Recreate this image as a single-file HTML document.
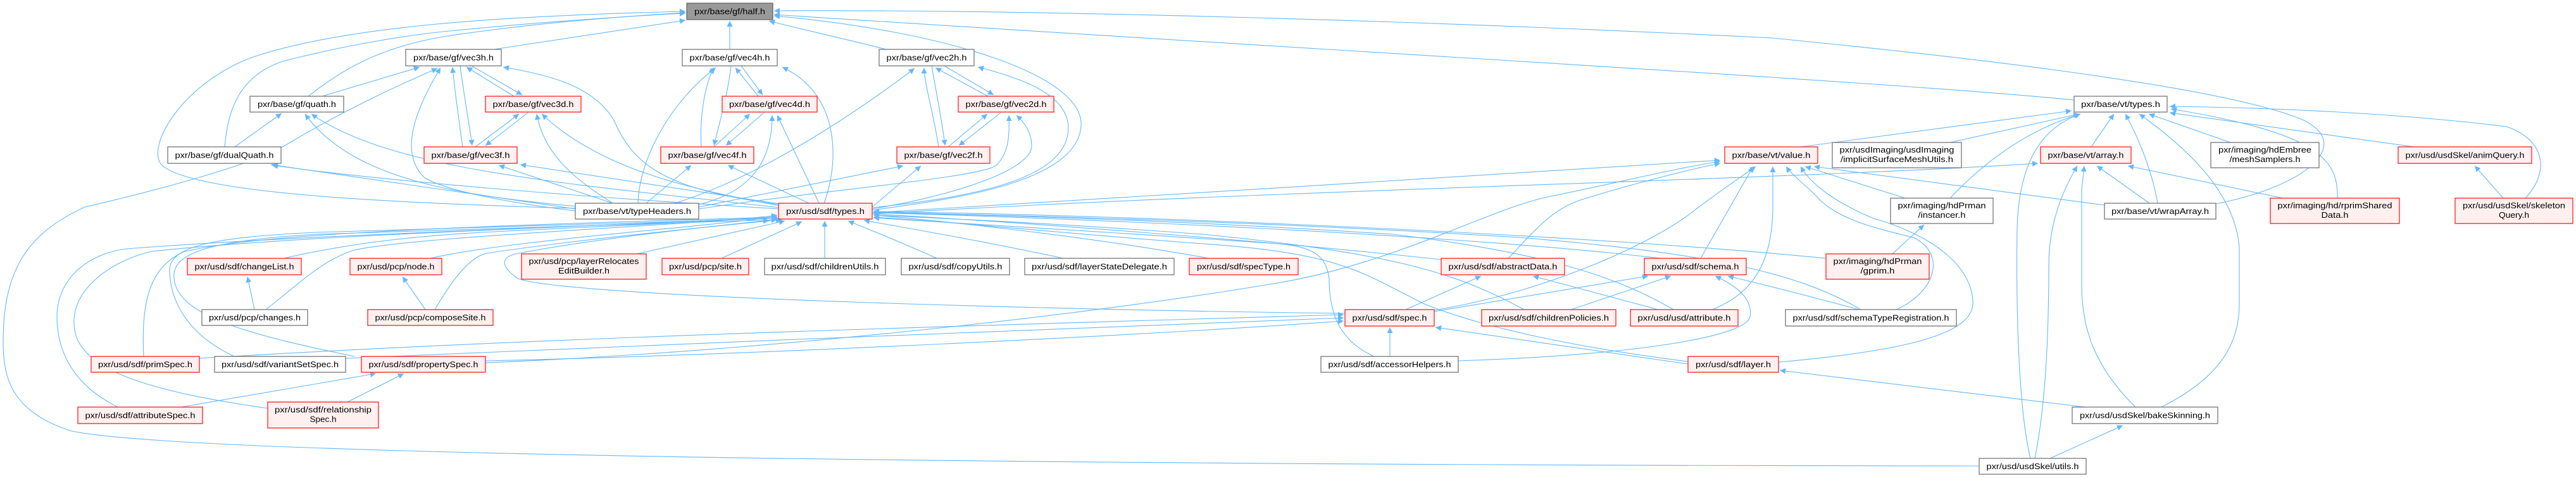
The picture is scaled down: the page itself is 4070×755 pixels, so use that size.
<!DOCTYPE html>
<html>
<head>
<meta charset="utf-8">
<style>
html,body{margin:0;padding:0;background:#fff;}
svg{display:block;}
text{font-family:"Liberation Sans",sans-serif;font-size:13px;fill:#000;}
.e{fill:none;stroke:#63b8ff;stroke-width:1.1;marker-end:url(#a);}
.n{fill:#fff;stroke:#777;stroke-width:1.3;}
.r{fill:#fff0f0;stroke:#ff2020;stroke-width:1.3;}
.g{fill:#999;stroke:#666;stroke-width:1.3;}
</style>
</head>
<body>
<svg width="4070" height="755" viewBox="0 0 4070 755" xmlns="http://www.w3.org/2000/svg">
<defs>
<marker id="a" viewBox="0 0 10 10" refX="10" refY="5" markerWidth="10" markerHeight="9" markerUnits="userSpaceOnUse" orient="auto"><path d="M0,0 L10,5 L0,10 z" fill="#63b8ff"/></marker>
</defs>
<rect width="4070" height="755" fill="#fff"/>

<!-- edges to half.h -->
<path class="e" d="M780 78 L1083 32"/>
<path class="e" d="M487 152 C540 110, 600 75, 700 58 C850 35, 1000 25, 1083 20"/>
<path class="e" d="M355 232 C360 170, 380 120, 446 97 C550 70, 650 55, 700 50 C850 35, 1000 25, 1083 21"/>
<path class="e" d="M909 329 C600 320, 300 305, 255 260 C230 230, 290 130, 400 90 C550 40, 800 25, 1083 18"/>
<path class="e" d="M1153 78 L1153 33"/>
<path class="e" d="M1400 78 C1330 60, 1260 45, 1215 33"/>
<path class="e" d="M1378 332 C1500 315, 1700 290, 1708 200 C1715 120, 1500 50, 1223 25"/>
<path class="e" d="M3277 158 C3000 130, 2100 80, 1223 23"/>
<path class="e" d="M3501 322 C3640 295, 3720 230, 3640 190 C3500 130, 3000 80, 2800 60 C2200 30, 1600 15, 1223 17"/>

<!-- vec3 group -->
<path class="e" d="M812 152 L737 106"/>
<path class="e" d="M745 104 L825 150"/>
<path class="e" d="M731 232 C725 190, 718 140, 715 106"/>
<path class="e" d="M727 104 C733 150, 742 200, 746 230"/>
<path class="e" d="M751 232 L820 180"/>
<path class="e" d="M834 178 L767 230"/>
<path class="e" d="M968 321 C920 290, 860 250, 848 180"/>
<path class="e" d="M1232 325 C1100 300, 950 270, 856 180"/>
<path class="e" d="M1232 323 C1050 300, 1000 260, 970 190 C940 140, 880 120, 795 106"/>
<path class="e" d="M968 321 L788 261"/>
<path class="e" d="M1232 322 L822 260"/>
<path class="e" d="M909 333 C800 320, 700 300, 670 280 C640 250, 640 200, 696 107"/>
<path class="e" d="M509 152 L663 106"/>
<path class="e" d="M371 232 L445 179"/>
<path class="e" d="M909 326 C750 310, 560 290, 482 180"/>
<path class="e" d="M1232 328 C900 290, 620 270, 492 180"/>
<path class="e" d="M909 330 L428 260"/>
<path class="e" d="M1232 330 C900 310, 600 285, 430 261"/>
<path class="e" d="M3127 736 C2000 735, 300 725, 110 680 C20 650, 5 600, 5 540 C5 430, 40 370, 134 327 C250 300, 400 260, 450 230 C550 170, 640 130, 691 108"/>

<!-- vec4 group -->
<path class="e" d="M1108 232 C1105 180, 1115 130, 1128 107"/>
<path class="e" d="M1155 104 C1150 150, 1135 200, 1128 230"/>
<path class="e" d="M1198 152 L1162 107"/>
<path class="e" d="M1171 104 L1205 150"/>
<path class="e" d="M1128 232 L1185 180"/>
<path class="e" d="M1207 178 L1147 230"/>
<path class="e" d="M1008 321 C1010 250, 1060 160, 1131 107"/>
<path class="e" d="M1302 321 C1325 260, 1330 150, 1236 106"/>
<path class="e" d="M1104 323 C1200 300, 1220 240, 1220 182"/>
<path class="e" d="M1294 321 L1228 182"/>
<path class="e" d="M1021 321 L1092 261"/>
<path class="e" d="M1278 321 L1150 261"/>

<!-- vec2 group -->
<path class="e" d="M1483 232 C1475 180, 1460 130, 1460 107"/>
<path class="e" d="M1472 104 C1480 150, 1490 200, 1493 230"/>
<path class="e" d="M1561 152 L1478 107"/>
<path class="e" d="M1492 104 L1570 150"/>
<path class="e" d="M1498 232 L1560 180"/>
<path class="e" d="M1581 178 L1515 230"/>
<path class="e" d="M1066 321 C1200 280, 1350 180, 1445 108"/>
<path class="e" d="M1378 328 C1550 310, 1690 280, 1688 200 C1685 150, 1620 125, 1545 106"/>
<path class="e" d="M1104 330 C1300 300, 1560 280, 1575 260 C1595 240, 1595 210, 1594 182"/>
<path class="e" d="M1378 330 C1500 310, 1630 270, 1630 230 C1630 210, 1620 195, 1606 182"/>
<path class="e" d="M1104 327 L1427 262"/>
<path class="e" d="M1378 327 L1455 262"/>

<!-- vt group -->
<path class="e" d="M2845 232 L3273 175"/>
<path class="e" d="M3081 225 L3285 180"/>
<path class="e" d="M3081 313 C3150 240, 3220 200, 3287 180"/>
<path class="e" d="M3208 724 C3190 650, 3185 500, 3187 360 C3190 250, 3230 200, 3287 180"/>
<path class="e" d="M3304 232 L3340 180"/>
<path class="e" d="M3409 321 C3400 270, 3380 220, 3358 180"/>
<path class="e" d="M3415 643 C3500 600, 3538 550, 3538 480 L3538 390 C3530 300, 3450 230, 3380 180"/>
<path class="e" d="M3524 225 L3395 180"/>
<path class="e" d="M3814 232 L3428 178"/>
<path class="e" d="M3693 313 C3695 250, 3660 210, 3430 172"/>
<path class="e" d="M3990 313 C4030 270, 4020 220, 3960 200 C3800 180, 3600 170, 3428 168"/>
<path class="e" d="M3955 313 L3910 262"/>
<path class="e" d="M3396 321 L3313 262"/>
<path class="e" d="M3607 313 L3362 262"/>
<path class="e" d="M3374 643 C3310 580, 3289 520, 3289 450 L3289 300 L3293 262"/>
<path class="e" d="M3215 724 C3230 650, 3237 550, 3237 420 C3237 350, 3260 300, 3282 262"/>
<path class="e" d="M3239 724 L3354 672"/>
<path class="e" d="M3325 324 L2866 263"/>
<path class="e" d="M3010 313 L2852 263"/>
<path class="e" d="M2810 572 C3000 555, 3115 530, 3117 480 C3118 420, 3050 370, 2960 345 C2900 320, 2860 290, 2845 263"/>
<path class="e" d="M2996 489 C3060 460, 3075 400, 3023 375 C2960 360, 2900 345, 2870 310 C2850 290, 2830 275, 2822 263"/>
<path class="e" d="M2705 489 C2780 460, 2800 400, 2801 330 L2801 263"/>
<path class="e" d="M2687 408 L2770 263"/>
<path class="e" d="M2266 490 C2450 460, 2620 380, 2680 330 C2720 300, 2750 280, 2774 263"/>
<path class="e" d="M2383 408 C2420 370, 2450 330, 2500 315 C2580 290, 2680 265, 2718 258"/>
<path class="e" d="M767 573 C1200 555, 1700 500, 2000 450 C2200 420, 2350 330, 2450 310 C2550 290, 2650 265, 2718 255"/>
<path class="e" d="M1378 336 C1800 310, 2300 280, 2718 253"/>
<path class="e" d="M1378 338 C2000 300, 2800 285, 3220 258"/>
<path class="e" d="M2990 401 L3040 355"/>

<!-- schema / abstractData / spec -->
<path class="e" d="M2266 492 L2604 436"/>
<path class="e" d="M2482 489 L2640 436"/>
<path class="e" d="M2304 570 C2600 560, 2760 530, 2765 500 C2770 470, 2740 450, 2710 436"/>
<path class="e" d="M2937 489 C2850 465, 2780 448, 2730 436"/>
<path class="e" d="M2221 489 L2340 436"/>
<path class="e" d="M2620 489 L2422 436"/>
<path class="e" d="M2196 563 L2196 517"/>
<path class="e" d="M2667 575 L2268 517"/>
<path class="e" d="M3295 643 L2812 585"/>
<path class="e" d="M315 566 C900 530, 1700 510, 2123 497"/>
<path class="e" d="M546 566 C1000 545, 1800 515, 2123 502"/>
<path class="e" d="M767 570 C1200 560, 1800 530, 2123 507"/>

<!-- sdf/types fan -->
<path class="e" d="M448 408 C550 385, 650 372, 800 365 C1000 355, 1150 350, 1228 340"/>
<path class="e" d="M680 408 C800 380, 1100 360, 1228 342"/>
<path class="e" d="M420 489 C470 450, 510 410, 560 395 C650 375, 1000 360, 1228 342"/>
<path class="e" d="M402 489 L391 437"/>
<path class="e" d="M672 489 L636 437"/>
<path class="e" d="M687 489 C710 450, 740 405, 770 400 C900 380, 1100 360, 1235 347"/>
<path class="e" d="M227 563 C222 470, 240 420, 290 398 C400 370, 700 358, 1228 343"/>
<path class="e" d="M370 563 C300 530, 270 480, 268 430 C265 390, 330 375, 500 367 C800 358, 1100 350, 1228 345"/>
<path class="e" d="M560 563 C400 530, 280 500, 275 440 C270 400, 330 380, 500 370 C800 362, 1100 352, 1228 347"/>
<path class="e" d="M186 643 C120 610, 90 560, 90 500 C90 440, 140 400, 200 393 C500 370, 900 360, 1228 343"/>
<path class="e" d="M423 645 C250 620, 140 590, 120 530 C100 460, 180 410, 240 397 C500 370, 900 360, 1228 343"/>
<path class="e" d="M286 643 L594 590"/>
<path class="e" d="M549 635 L638 590"/>
<path class="e" d="M1006 401 L1240 349"/>
<path class="e" d="M1140 408 L1267 350"/>
<path class="e" d="M1303 408 L1303 349"/>
<path class="e" d="M1480 408 C1440 390, 1380 365, 1340 349"/>
<path class="e" d="M1680 408 C1550 380, 1420 358, 1365 348"/>
<path class="e" d="M1910 408 C1700 370, 1450 345, 1380 340"/>
<path class="e" d="M2277 410 C2000 380, 1600 350, 1380 338"/>
<path class="e" d="M2624 408 C2300 370, 1700 345, 1380 336"/>
<path class="e" d="M2885 408 C2500 370, 1800 340, 1380 334"/>
<path class="e" d="M2940 489 C2840 430, 2700 400, 2400 375 C2000 350, 1600 340, 1380 335"/>
<path class="e" d="M2408 489 C2300 430, 2200 400, 1900 370 C1700 355, 1500 345, 1380 340"/>
<path class="e" d="M2644 489 C2560 440, 2450 400, 2200 370 C1900 350, 1600 340, 1380 336"/>
<path class="e" d="M2667 571 C2500 550, 2350 520, 2250 480 C2150 430, 2120 400, 1900 385 C1700 370, 1500 350, 1380 343"/>
<path class="e" d="M2171 563 C2120 540, 2100 500, 2100 440 C2095 400, 2070 390, 2020 385 C1800 370, 1500 350, 1380 344"/>
<path class="e" d="M2125 495 C1700 490, 900 470, 818 440 C790 420, 790 405, 820 400 C950 375, 1150 355, 1215 348"/>

<!-- nodes -->
<g>
<rect class="g" x="1085" y="5" width="136" height="26"/><text x="1153" y="22.5" text-anchor="middle" textLength="112" lengthAdjust="spacingAndGlyphs">pxr/base/gf/half.h</text>

<rect class="n" x="641" y="78" width="151" height="26"/><text x="716.5" y="95.5" text-anchor="middle" textLength="127" lengthAdjust="spacingAndGlyphs">pxr/base/gf/vec3h.h</text>
<rect class="n" x="1078" y="78" width="150" height="26"/><text x="1153" y="95.5" text-anchor="middle" textLength="127" lengthAdjust="spacingAndGlyphs">pxr/base/gf/vec4h.h</text>
<rect class="n" x="1389" y="78" width="150" height="26"/><text x="1464" y="95.5" text-anchor="middle" textLength="127" lengthAdjust="spacingAndGlyphs">pxr/base/gf/vec2h.h</text>

<rect class="n" x="395" y="152" width="148" height="25"/><text x="469" y="169" text-anchor="middle" textLength="124" lengthAdjust="spacingAndGlyphs">pxr/base/gf/quath.h</text>
<rect class="r" x="767" y="152" width="151" height="25"/><text x="842.5" y="169" text-anchor="middle" textLength="128" lengthAdjust="spacingAndGlyphs">pxr/base/gf/vec3d.h</text>
<rect class="r" x="1141" y="152" width="150" height="25"/><text x="1216" y="169" text-anchor="middle" textLength="128" lengthAdjust="spacingAndGlyphs">pxr/base/gf/vec4d.h</text>
<rect class="r" x="1514" y="152" width="151" height="25"/><text x="1589.5" y="169" text-anchor="middle" textLength="128" lengthAdjust="spacingAndGlyphs">pxr/base/gf/vec2d.h</text>
<rect class="n" x="3277" y="152" width="147" height="25"/><text x="3350.5" y="169" text-anchor="middle" textLength="125" lengthAdjust="spacingAndGlyphs">pxr/base/vt/types.h</text>

<rect class="n" x="265" y="232" width="179" height="26"/><text x="354.5" y="249.5" text-anchor="middle" textLength="156" lengthAdjust="spacingAndGlyphs">pxr/base/gf/dualQuath.h</text>
<rect class="r" x="670" y="232" width="147" height="26"/><text x="743.5" y="249.5" text-anchor="middle" textLength="124" lengthAdjust="spacingAndGlyphs">pxr/base/gf/vec3f.h</text>
<rect class="r" x="1044" y="232" width="147" height="26"/><text x="1117.5" y="249.5" text-anchor="middle" textLength="124" lengthAdjust="spacingAndGlyphs">pxr/base/gf/vec4f.h</text>
<rect class="r" x="1417" y="232" width="147" height="26"/><text x="1490.5" y="249.5" text-anchor="middle" textLength="124" lengthAdjust="spacingAndGlyphs">pxr/base/gf/vec2f.h</text>
<rect class="r" x="2725" y="232" width="147" height="26"/><text x="2798.5" y="249.5" text-anchor="middle" textLength="124" lengthAdjust="spacingAndGlyphs">pxr/base/vt/value.h</text>
<rect class="r" x="3224" y="232" width="143" height="26"/><text x="3295.5" y="249.5" text-anchor="middle" textLength="120" lengthAdjust="spacingAndGlyphs">pxr/base/vt/array.h</text>
<rect class="r" x="3789" y="232" width="211" height="26"/><text x="3894.5" y="249.5" text-anchor="middle" textLength="188" lengthAdjust="spacingAndGlyphs">pxr/usd/usdSkel/animQuery.h</text>

<rect class="n" x="2895" y="225" width="204" height="40"/><text x="2997" y="241" text-anchor="middle" textLength="181" lengthAdjust="spacingAndGlyphs">pxr/usdImaging/usdImaging</text><text x="2997" y="256" text-anchor="middle" textLength="178" lengthAdjust="spacingAndGlyphs">/implicitSurfaceMeshUtils.h</text>
<rect class="n" x="3493" y="225" width="171" height="40"/><text x="3578.5" y="241" text-anchor="middle" textLength="147" lengthAdjust="spacingAndGlyphs">pxr/imaging/hdEmbree</text><text x="3578.5" y="256" text-anchor="middle" textLength="112" lengthAdjust="spacingAndGlyphs">/meshSamplers.h</text>

<rect class="n" x="2987" y="313" width="162" height="40"/><text x="3068" y="329" text-anchor="middle" textLength="139" lengthAdjust="spacingAndGlyphs">pxr/imaging/hdPrman</text><text x="3068" y="344" text-anchor="middle" textLength="75" lengthAdjust="spacingAndGlyphs">/instancer.h</text>
<rect class="r" x="3587" y="313" width="204" height="40"/><text x="3689" y="329" text-anchor="middle" textLength="181" lengthAdjust="spacingAndGlyphs">pxr/imaging/hd/rprimShared</text><text x="3689" y="344" text-anchor="middle" textLength="43" lengthAdjust="spacingAndGlyphs">Data.h</text>
<rect class="r" x="3879" y="313" width="186" height="40"/><text x="3972" y="329" text-anchor="middle" textLength="162" lengthAdjust="spacingAndGlyphs">pxr/usd/usdSkel/skeleton</text><text x="3972" y="344" text-anchor="middle" textLength="48" lengthAdjust="spacingAndGlyphs">Query.h</text>

<rect class="n" x="909" y="321" width="195" height="25"/><text x="1006.5" y="338" text-anchor="middle" textLength="171" lengthAdjust="spacingAndGlyphs">pxr/base/vt/typeHeaders.h</text>
<rect class="r" x="1230" y="321" width="148" height="25"/><text x="1304" y="338" text-anchor="middle" textLength="124" lengthAdjust="spacingAndGlyphs">pxr/usd/sdf/types.h</text>
<rect class="n" x="3325" y="321" width="176" height="25"/><text x="3413" y="338" text-anchor="middle" textLength="154" lengthAdjust="spacingAndGlyphs">pxr/base/vt/wrapArray.h</text>

<rect class="r" x="824" y="401" width="197" height="40"/><text x="922.5" y="417" text-anchor="middle" textLength="174" lengthAdjust="spacingAndGlyphs">pxr/usd/pcp/layerRelocates</text><text x="922.5" y="432" text-anchor="middle" textLength="81" lengthAdjust="spacingAndGlyphs">EditBuilder.h</text>
<rect class="r" x="2885" y="401" width="163" height="40"/><text x="2966.5" y="417" text-anchor="middle" textLength="140" lengthAdjust="spacingAndGlyphs">pxr/imaging/hdPrman</text><text x="2966.5" y="432" text-anchor="middle" textLength="54" lengthAdjust="spacingAndGlyphs">/gprim.h</text>

<rect class="r" x="296" y="408" width="180" height="26"/><text x="386" y="425.5" text-anchor="middle" textLength="157" lengthAdjust="spacingAndGlyphs">pxr/usd/sdf/changeList.h</text>
<rect class="r" x="553" y="408" width="145" height="26"/><text x="625.5" y="425.5" text-anchor="middle" textLength="122" lengthAdjust="spacingAndGlyphs">pxr/usd/pcp/node.h</text>
<rect class="r" x="1046" y="408" width="137" height="26"/><text x="1114.5" y="425.5" text-anchor="middle" textLength="115" lengthAdjust="spacingAndGlyphs">pxr/usd/pcp/site.h</text>
<rect class="n" x="1208" y="408" width="191" height="26"/><text x="1303.5" y="425.5" text-anchor="middle" textLength="170" lengthAdjust="spacingAndGlyphs">pxr/usd/sdf/childrenUtils.h</text>
<rect class="n" x="1424" y="408" width="171" height="26"/><text x="1509.5" y="425.5" text-anchor="middle" textLength="148" lengthAdjust="spacingAndGlyphs">pxr/usd/sdf/copyUtils.h</text>
<rect class="n" x="1619" y="408" width="236" height="26"/><text x="1737" y="425.5" text-anchor="middle" textLength="214" lengthAdjust="spacingAndGlyphs">pxr/usd/sdf/layerStateDelegate.h</text>
<rect class="r" x="1879" y="408" width="172" height="26"/><text x="1965" y="425.5" text-anchor="middle" textLength="148" lengthAdjust="spacingAndGlyphs">pxr/usd/sdf/specType.h</text>
<rect class="r" x="2277" y="408" width="195" height="26"/><text x="2374.5" y="425.5" text-anchor="middle" textLength="172" lengthAdjust="spacingAndGlyphs">pxr/usd/sdf/abstractData.h</text>
<rect class="r" x="2598" y="408" width="161" height="26"/><text x="2678.5" y="425.5" text-anchor="middle" textLength="138" lengthAdjust="spacingAndGlyphs">pxr/usd/sdf/schema.h</text>

<rect class="n" x="319" y="489" width="167" height="25"/><text x="402.5" y="506" text-anchor="middle" textLength="145" lengthAdjust="spacingAndGlyphs">pxr/usd/pcp/changes.h</text>
<rect class="r" x="581" y="489" width="198" height="25"/><text x="680" y="506" text-anchor="middle" textLength="175" lengthAdjust="spacingAndGlyphs">pxr/usd/pcp/composeSite.h</text>
<rect class="r" x="2125" y="489" width="141" height="26"/><text x="2195.5" y="506.5" text-anchor="middle" textLength="118" lengthAdjust="spacingAndGlyphs">pxr/usd/sdf/spec.h</text>
<rect class="r" x="2341" y="489" width="212" height="26"/><text x="2447" y="506.5" text-anchor="middle" textLength="190" lengthAdjust="spacingAndGlyphs">pxr/usd/sdf/childrenPolicies.h</text>
<rect class="r" x="2576" y="489" width="170" height="26"/><text x="2661" y="506.5" text-anchor="middle" textLength="147" lengthAdjust="spacingAndGlyphs">pxr/usd/usd/attribute.h</text>
<rect class="n" x="2821" y="489" width="270" height="26"/><text x="2956" y="506.5" text-anchor="middle" textLength="247" lengthAdjust="spacingAndGlyphs">pxr/usd/sdf/schemaTypeRegistration.h</text>

<rect class="r" x="144" y="563" width="171" height="25"/><text x="229.5" y="580" text-anchor="middle" textLength="149" lengthAdjust="spacingAndGlyphs">pxr/usd/sdf/primSpec.h</text>
<rect class="n" x="339" y="563" width="207" height="25"/><text x="442.5" y="580" text-anchor="middle" textLength="185" lengthAdjust="spacingAndGlyphs">pxr/usd/sdf/variantSetSpec.h</text>
<rect class="r" x="571" y="563" width="196" height="25"/><text x="669" y="580" text-anchor="middle" textLength="173" lengthAdjust="spacingAndGlyphs">pxr/usd/sdf/propertySpec.h</text>
<rect class="n" x="2087" y="563" width="217" height="25"/><text x="2195.5" y="580" text-anchor="middle" textLength="194" lengthAdjust="spacingAndGlyphs">pxr/usd/sdf/accessorHelpers.h</text>
<rect class="r" x="2667" y="563" width="143" height="25"/><text x="2738.5" y="580" text-anchor="middle" textLength="119" lengthAdjust="spacingAndGlyphs">pxr/usd/sdf/layer.h</text>

<rect class="r" x="123" y="643" width="197" height="26"/><text x="221.5" y="660.5" text-anchor="middle" textLength="174" lengthAdjust="spacingAndGlyphs">pxr/usd/sdf/attributeSpec.h</text>
<rect class="r" x="423" y="635" width="175" height="41"/><text x="510.5" y="651.5" text-anchor="middle" textLength="153" lengthAdjust="spacingAndGlyphs">pxr/usd/sdf/relationship</text><text x="510.5" y="666.5" text-anchor="middle" textLength="42" lengthAdjust="spacingAndGlyphs">Spec.h</text>
<rect class="n" x="3274" y="643" width="230" height="26"/><text x="3389" y="660.5" text-anchor="middle" textLength="206" lengthAdjust="spacingAndGlyphs">pxr/usd/usdSkel/bakeSkinning.h</text>

<rect class="n" x="3127" y="724" width="169" height="25"/><text x="3211.5" y="741" text-anchor="middle" textLength="146" lengthAdjust="spacingAndGlyphs">pxr/usd/usdSkel/utils.h</text>
</g>
</svg>
</body>
</html>
